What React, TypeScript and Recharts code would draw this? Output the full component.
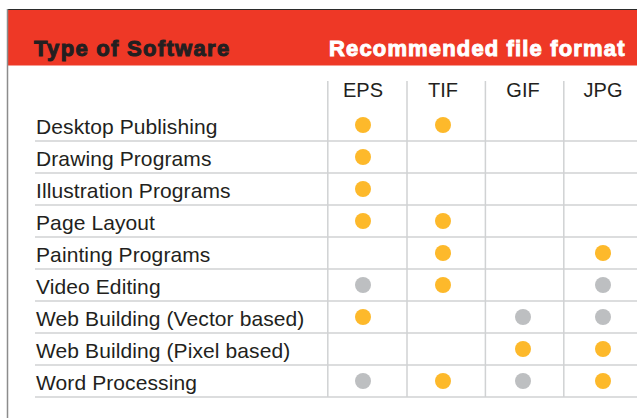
import { ScatterChart, Scatter, XAxis, YAxis, ReferenceLine, Customized } from "recharts";

const software = [
  "Desktop Publishing",
  "Drawing Programs",
  "Illustration Programs",
  "Page Layout",
  "Painting Programs",
  "Video Editing",
  "Web Building (Vector based)",
  "Web Building (Pixel based)",
  "Word Processing",
];

const formats = ["EPS", "TIF", "GIF", "JPG"];

// "y" = recommended (orange dot), "g" = possible (grey dot), "" = not used
const epsMarks = ["y", "y", "y", "y", "", "g", "y", "", "g"];
const tifMarks = ["y", "", "", "y", "y", "y", "", "", "y"];
const gifMarks = ["", "", "", "", "", "", "g", "y", "g"];
const jpgMarks = ["", "", "", "", "y", "g", "g", "y", "y"];

const marksByFormat = [epsMarks, tifMarks, gifMarks, jpgMarks];

const recommended: { x: number; y: number }[] = [];
const possible: { x: number; y: number }[] = [];
marksByFormat.forEach((marks, i) => {
  marks.forEach((m, j) => {
    if (m === "y") recommended.push({ x: i, y: j });
    if (m === "g") possible.push({ x: i, y: j });
  });
});

const FONT = '"Liberation Sans", Arial, Helvetica, sans-serif';
const TEXT = "#231f20";
const RULE = "#d0d2d3";
const ORANGE = "#fdb92b";
const GREY = "#bdbfc1";
const RED = "#ee3826";

// column separators sit a little right of half-way between the dots
const separators = [-0.44, 0.55, 1.53, 2.51];
const HEADER_TOP = -1.375;

const Dot = (color: string) => (p: any) => <circle cx={p.cx} cy={p.cy} r={8} fill={color} />;

const RowTick = ({ y, payload }: any) => (
  <g>
    <text x={36} y={y + 9} fontSize={21} fill={TEXT} fontFamily={FONT} letterSpacing={0.1}>
      {software[payload.value]}
    </text>
    <line x1={35} x2={648} y1={y + 16} y2={y + 16} stroke={RULE} strokeWidth={1.5} />
  </g>
);

const ColTick = ({ x, payload }: any) => (
  <text x={x} y={97} fontSize={20} fill={TEXT} fontFamily={FONT} textAnchor="middle">
    {formats[payload.value]}
  </text>
);

const Frame = () => (
  <g>
    <rect x={8} y={10} width={640} height={55.5} fill={RED} />
    <line x1={7} x2={648} y1={9.5} y2={9.5} stroke="#2b2b2b" strokeWidth={1} />
    <line x1={7.5} x2={7.5} y1={9} y2={418} stroke="#8c8c8c" strokeWidth={1.5} />
    <text
      x={34}
      y={56}
      fontSize={22}
      fontWeight="bold"
      letterSpacing={1.3}
      fill={TEXT}
      stroke={TEXT}
      strokeWidth={1}
      fontFamily={FONT}
    >
      Type of Software
    </text>
    <text
      x={329}
      y={56}
      fontSize={22}
      fontWeight="bold"
      letterSpacing={1.15}
      fill="#ffffff"
      stroke="#ffffff"
      strokeWidth={1}
      fontFamily={FONT}
    >
      Recommended file format
    </text>
  </g>
);

export default function App() {
  return (
    <div
      style={{
        position: "absolute",
        left: 0,
        top: 0,
        width: 637,
        height: 418,
        overflow: "hidden",
        background: "#ffffff",
      }}
    >
      <ScatterChart width={643} height={418} margin={{ top: 81, right: 0, bottom: 21, left: 0 }}>
        <Customized component={Frame} />
        <XAxis
          type="number"
          dataKey="x"
          orientation="top"
          domain={[-0.5, 3.5]}
          ticks={[0, 1, 2, 3]}
          interval={0}
          height={28}
          axisLine={false}
          tickLine={false}
          tick={<ColTick />}
        />
        <YAxis
          type="number"
          dataKey="y"
          domain={[-0.5, 8.5]}
          ticks={[0, 1, 2, 3, 4, 5, 6, 7, 8]}
          interval={0}
          reversed
          width={323}
          axisLine={false}
          tickLine={false}
          tick={<RowTick />}
        />
        {separators.map((s) => (
          <ReferenceLine
            key={s}
            segment={[
              { x: s, y: HEADER_TOP },
              { x: s, y: 8.5 },
            ]}
            stroke={RULE}
            strokeWidth={1.5}
            ifOverflow="visible"
          />
        ))}
        <Scatter data={possible} shape={Dot(GREY)} isAnimationActive={false} />
        <Scatter data={recommended} shape={Dot(ORANGE)} isAnimationActive={false} />
      </ScatterChart>
    </div>
  );
}
